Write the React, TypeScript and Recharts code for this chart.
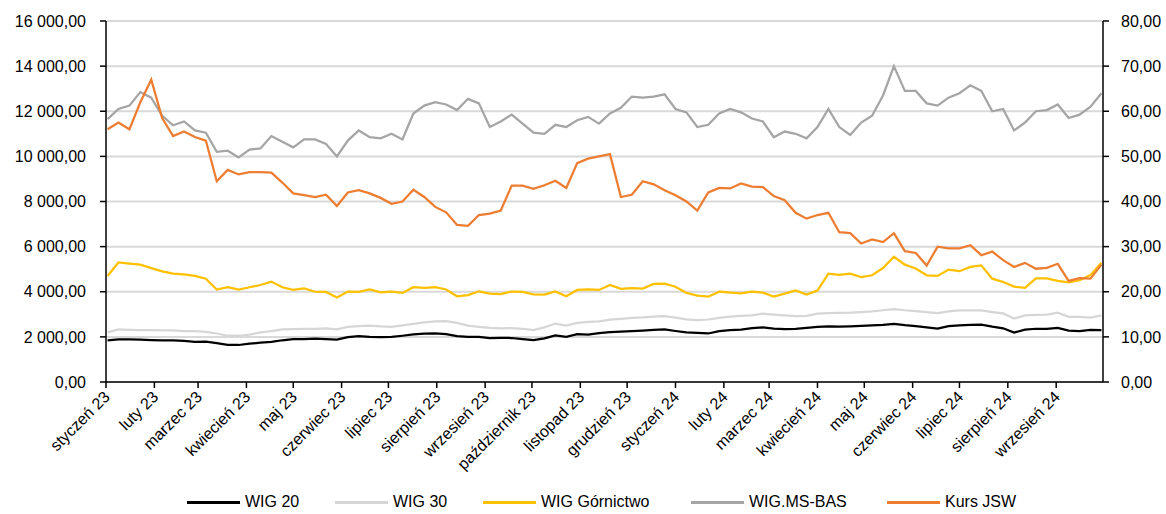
import { LineChart, Line, XAxis, YAxis, CartesianGrid } from "recharts";

const DAY = 86400000;
const FIRST_WEEK = Date.UTC(2023, 0, 2);
const X_START = Date.UTC(2023, 0, 1);
const X_END = Date.UTC(2024, 9, 1);

// weekly readings, Mondays from 2 Jan 2023 to 30 Sep 2024
const wig20 = [
  1850, 1890, 1890, 1880, 1860, 1850, 1850, 1820, 1780, 1790, 1720, 1650, 1640, 1700, 1740, 1780, 1850, 1900, 1900,
  1920, 1900, 1880, 1990, 2030, 2000, 1990, 2000, 2050, 2110, 2140, 2150, 2120, 2030, 2000, 2000, 1940, 1960,
  1950, 1900, 1860, 1930, 2070, 2000, 2120, 2100, 2170, 2210, 2230, 2260, 2280, 2310, 2330, 2260, 2200, 2180,
  2150, 2250, 2300, 2320, 2390, 2420, 2370, 2340, 2360, 2400, 2440, 2470, 2450, 2470, 2490, 2510, 2530, 2580, 2520,
  2480, 2420, 2370, 2480, 2510, 2530, 2540, 2450, 2380, 2190, 2320, 2360, 2360, 2400, 2280, 2260, 2310, 2300,
];

const wig30 = [
  2200, 2330, 2310, 2300, 2300, 2290, 2290, 2250, 2250, 2220, 2150, 2050, 2050, 2100, 2200, 2250, 2330, 2340, 2360,
  2360, 2380, 2330, 2440, 2480, 2500, 2460, 2440, 2510, 2580, 2640, 2690, 2700, 2620, 2500, 2440, 2400, 2380,
  2390, 2360, 2300, 2420, 2590, 2500, 2620, 2660, 2690, 2760, 2800, 2840, 2860, 2900, 2920, 2850, 2780, 2740,
  2770, 2840, 2900, 2930, 2950, 3030, 2990, 2950, 2920, 2930, 3030, 3050, 3060, 3070, 3100, 3130, 3180, 3230, 3180,
  3140, 3100, 3050, 3130, 3170, 3180, 3170, 3100, 3040, 2810, 2950, 2980, 2990, 3070, 2890, 2890, 2850, 2950,
];

const wigGornictwo = [
  4700, 5300, 5250, 5200, 5050, 4900, 4800, 4770, 4700, 4580, 4100, 4200, 4100, 4200, 4300, 4450, 4200, 4080, 4150,
  4000, 3990, 3750, 4010, 4000, 4100, 3970, 4000, 3950, 4200, 4170, 4200, 4100, 3800, 3850, 4020, 3920, 3900,
  4010, 3990, 3880, 3870, 4010, 3800, 4080, 4100, 4080, 4300, 4130, 4160, 4140, 4350, 4360, 4220, 3950, 3830,
  3780, 4000, 3960, 3930, 4000, 3960, 3790, 3920, 4060, 3880, 4050, 4800, 4750, 4800, 4650, 4730, 5050, 5550, 5200,
  5030, 4730, 4700, 4980, 4910, 5100, 5170, 4580, 4430, 4230, 4170, 4590, 4590, 4480, 4420, 4510, 4740, 5290,
];

const wigMsBas = [
  11650, 12100, 12250, 12850, 12600, 11800, 11380, 11550, 11150, 11050, 10200, 10250, 9950, 10300, 10350, 10900, 10650, 10400, 10750,
  10750, 10550, 10000, 10700, 11150, 10850, 10800, 11000, 10750, 11900, 12250, 12400, 12300, 12050, 12550, 12350, 11300, 11550,
  11850, 11450, 11050, 11000, 11400, 11300, 11600, 11750, 11450, 11900, 12150, 12650, 12600, 12650, 12750, 12100, 11950, 11300,
  11400, 11900, 12100, 11950, 11680, 11550, 10850, 11100, 11000, 10800, 11300, 12100, 11300, 10950, 11500, 11800, 12700, 14000, 12900,
  12900, 12350, 12250, 12600, 12800, 13150, 12900, 12000, 12100, 11150, 11500, 12000, 12050, 12300, 11700, 11850, 12200, 12800,
];

const kursJsw = [
  56, 57.5, 56, 62, 67, 58.5, 54.5, 55.5, 54.3, 53.5, 44.5, 47, 46, 46.5, 46.5, 46.4, 44.2, 41.8, 41.4,
  41, 41.5, 39, 42, 42.5, 41.8, 40.8, 39.5, 40, 42.6, 41, 38.8, 37.6, 34.8, 34.6, 37, 37.3, 38,
  43.5, 43.5, 42.8, 43.6, 44.6, 43, 48.5, 49.5, 50, 50.5, 41, 41.5, 44.5, 43.8, 42.5, 41.4, 40, 38,
  42, 43, 42.9, 44, 43.3, 43.2, 41.2, 40.3, 37.5, 36.2, 37, 37.5, 33.2, 33, 30.7, 31.6, 31, 33, 29,
  28.6, 25.8, 30, 29.6, 29.6, 30.3, 28.1, 28.9, 27, 25.5, 26.4, 25.1, 25.3, 26.2, 22.4, 23, 22.9, 26,
];

const monthLabels = [
  "styczeń 23", "luty 23", "marzec 23", "kwiecień 23", "maj 23", "czerwiec 23", "lipiec 23",
  "sierpień 23", "wrzesień 23", "październik 23", "listopad 23", "grudzień 23", "styczeń 24",
  "luty 24", "marzec 24", "kwiecień 24", "maj 24", "czerwiec 24", "lipiec 24", "sierpień 24", "wrzesień 24",
];
const monthTicks = monthLabels.map((_, k) => Date.UTC(2023, k, 1));

const leftTicks = [0, 2000, 4000, 6000, 8000, 10000, 12000, 14000, 16000];
const rightTicks = [0, 10, 20, 30, 40, 50, 60, 70, 80];

const data = wig20.map((v, i) => ({
  t: FIRST_WEEK + i * 7 * DAY,
  wig20: v,
  wig30: wig30[i],
  gornictwo: wigGornictwo[i],
  msbas: wigMsBas[i],
  jsw: kursJsw[i],
}));

const FONT = '"Liberation Sans", Arial, sans-serif';

const series = [
  { key: "wig20", name: "WIG 20", color: "#000000", axis: "left" },
  { key: "wig30", name: "WIG 30", color: "#d6d6d6", axis: "left" },
  { key: "gornictwo", name: "WIG Górnictwo", color: "#ffc000", axis: "left" },
  { key: "msbas", name: "WIG.MS-BAS", color: "#a5a5a5", axis: "left" },
  { key: "jsw", name: "Kurs JSW", color: "#ed7d31", axis: "right" },
];

// legend item starts (line sample)
const legendX = [187, 335, 483, 691, 887];

const fmtLeft = (v: number) => {
  const [int, dec] = v.toFixed(2).split(".");
  return int.replace(/\B(?=(\d{3})+(?!\d))/g, "\u00a0") + "," + dec;
};
const fmtRight = (v: number) => v.toFixed(2).replace(".", ",");

function MonthTick(props: any) {
  const { x, y, payload } = props;
  const label = monthLabels[monthTicks.indexOf(payload.value)];
  const ax = x + 1;
  const ay = y + 4;
  return (
    <text
      x={ax}
      y={ay}
      transform={`rotate(-45, ${ax}, ${ay})`}
      textAnchor="end"
      dominantBaseline="central"
      fontSize={16}
      fontFamily={FONT}
      fill="#000"
    >
      {label}
    </text>
  );
}

function ChartLegend() {
  return (
    <div style={{ position: "absolute", left: 0, top: 491, width: 1166, height: 22, fontFamily: FONT, fontSize: 16, color: "#000" }}>
      {series.map((s, i) => (
        <div
          key={s.key}
          style={{ position: "absolute", left: legendX[i], top: 0, height: 22, display: "flex", alignItems: "center", gap: 5, whiteSpace: "nowrap" }}
        >
          <span style={{ display: "inline-block", width: 53, height: 3, background: s.color }} />
          <span>{s.name}</span>
        </div>
      ))}
    </div>
  );
}

export default function App() {
  return (
    <div style={{ position: "absolute", left: 0, top: 0, width: 1166, height: 514, background: "#fff" }}>
      <LineChart width={1166} height={514} data={data} margin={{ top: 21, right: 0, bottom: 0, left: 0 }}>
        <CartesianGrid yAxisId="left" vertical={false} stroke="#d9d9d9" strokeWidth={2} />
        <XAxis
          dataKey="t"
          type="number"
          domain={[X_START, X_END]}
          ticks={monthTicks}
          interval={0}
          height={132}
          tick={<MonthTick />}
          tickSize={6}
          axisLine={{ stroke: "#000", strokeWidth: 1.5 }}
          tickLine={{ stroke: "#000", strokeWidth: 1.5 }}
        />
        <YAxis
          yAxisId="left"
          domain={[0, 16000]}
          ticks={leftTicks}
          width={106}
          tickFormatter={fmtLeft}
          tickSize={6}
          tickMargin={14}
          tick={{ fontSize: 16, fill: "#000", fontFamily: FONT }}
          axisLine={{ stroke: "#000", strokeWidth: 1.5 }}
          tickLine={{ stroke: "#000", strokeWidth: 1.5 }}
        />
        <YAxis
          yAxisId="right"
          orientation="right"
          domain={[0, 80]}
          ticks={rightTicks}
          width={63}
          tickFormatter={fmtRight}
          tickSize={6}
          tickMargin={12}
          tick={{ fontSize: 16, fill: "#000", fontFamily: FONT }}
          axisLine={{ stroke: "#000", strokeWidth: 1.5 }}
          tickLine={{ stroke: "#000", strokeWidth: 1.5 }}
        />
        {series.map((s) => (
          <Line
            key={s.key}
            yAxisId={s.axis}
            dataKey={s.key}
            name={s.name}
            type="linear"
            stroke={s.color}
            strokeWidth={2.25}
            dot={false}
            isAnimationActive={false}
          />
        ))}
      </LineChart>
      <ChartLegend />
    </div>
  );
}
